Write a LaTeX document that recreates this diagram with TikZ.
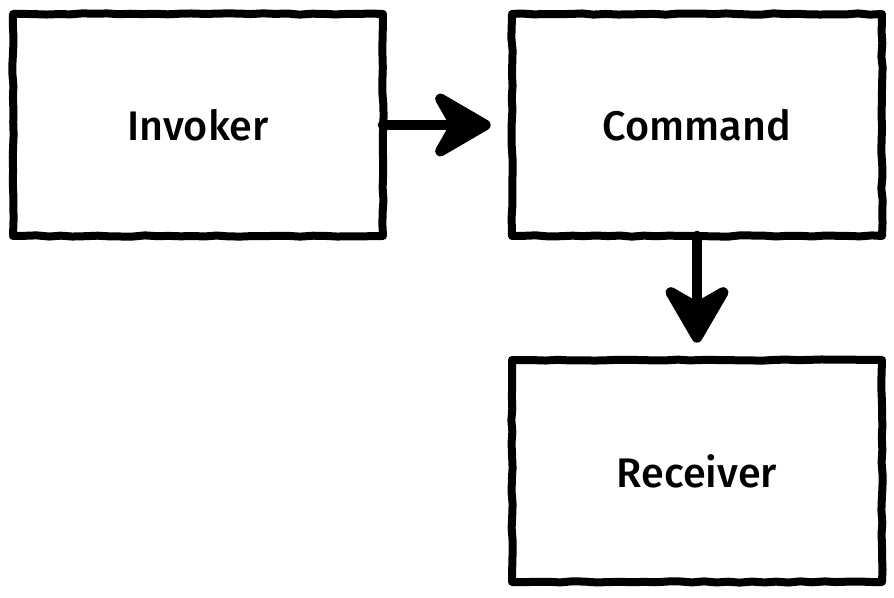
\documentclass[tikz,border=0pt]{standalone}
\usepackage{fontspec}
\setmainfont{Fira Sans Medium}
\usetikzlibrary{arrows.meta,decorations.pathmorphing}

\tikzset{
  sketch/.style={decorate, decoration={random steps, segment length=9pt, amplitude=0.5pt}},
  block/.style={draw, line width=6pt, line join=round, line cap=round, sketch,
    minimum width=277.5pt, minimum height=166.5pt, inner sep=0pt, outer sep=0pt,
    font=\fontsize{31}{36}\selectfont},
  flow/.style={line width=8pt, line cap=round,
    -{Stealth[length=52pt, width=60pt, inset=17pt, round]}}
}

\begin{document}
\begin{tikzpicture}[x=0.75pt, y=-0.75pt]
  \useasboundingbox (0,0) rectangle (894,598);

  % Boxes
  \node[block] (invoker)  at (198,125) {Invoker};
  \node[block] (command)  at (697,125) {Command};
  \node[block] (receiver) at (697,471) {Receiver};

  % Arrows
  \draw[flow, shorten >=16pt] (invoker.east) -- (command.west);
  \draw[flow, shorten >=13pt] (command.south) -- (receiver.north);
\end{tikzpicture}
\end{document}
